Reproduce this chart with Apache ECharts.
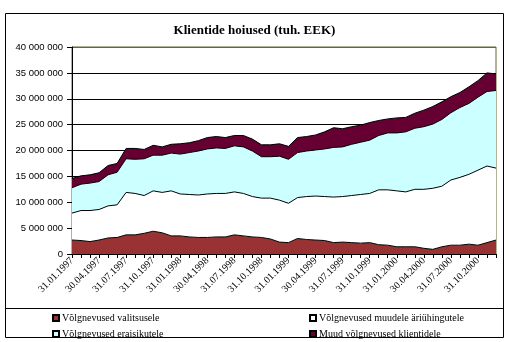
<!DOCTYPE html>
<html>
<head>
<meta charset="utf-8">
<script src="https://cdn.jsdelivr.net/npm/echarts@6/dist/echarts.min.js"></script>
<style>html,body{margin:0;padding:0;background:#fff;}#c{width:509px;height:342px;}</style>
</head>
<body>
<div id="c"></div>
<script>
const titleText = 'Klientide hoiused (tuh. EEK)';
const categories = [
 '31.01.1997','28.02.1997','31.03.1997','30.04.1997','31.05.1997','30.06.1997','31.07.1997','31.08.1997','30.09.1997','31.10.1997','30.11.1997','31.12.1997',
 '31.01.1998','28.02.1998','31.03.1998','30.04.1998','31.05.1998','30.06.1998','31.07.1998','31.08.1998','30.09.1998','31.10.1998','30.11.1998','31.12.1998',
 '31.01.1999','28.02.1999','31.03.1999','30.04.1999','31.05.1999','30.06.1999','31.07.1999','31.08.1999','30.09.1999','31.10.1999','30.11.1999','31.12.1999',
 '31.01.2000','29.02.2000','31.03.2000','30.04.2000','31.05.2000','30.06.2000','31.07.2000','31.08.2000','30.09.2000','31.10.2000','30.11.2000','31.12.2000'
];
const seriesNames = ['Võlgnevused valitsusele','Võlgnevused muudele äriühingutele','Võlgnevused eraisikutele','Muud võlgnevused klientidele'];
const valitsusele = [2700000,2600000,2400000,2700000,3100000,3200000,3700000,3700000,4000000,4400000,4100000,3500000,
 3500000,3300000,3200000,3200000,3300000,3300000,3700000,3500000,3300000,3200000,2900000,2300000,
 2200000,3000000,2800000,2700000,2600000,2200000,2300000,2200000,2100000,2200000,1800000,1700000,
 1400000,1400000,1400000,1100000,900000,1400000,1700000,1700000,1900000,1700000,2200000,2700000];
const muudele = [5200000,5800000,6000000,5900000,6200000,6300000,8200000,8000000,7300000,7800000,7800000,8700000,
 8100000,8200000,8200000,8400000,8400000,8400000,8300000,8200000,7800000,7600000,7900000,8100000,
 7600000,7900000,8300000,8500000,8500000,8800000,8800000,9100000,9400000,9500000,10600000,10700000,
 10800000,10600000,11100000,11400000,11800000,11700000,12600000,13100000,13500000,14500000,14800000,13900000];
const eraisikutele = [4900000,5100000,5300000,5400000,6000000,6300000,6500000,6600000,7100000,6900000,7200000,7300000,
 7700000,8100000,8500000,8700000,8800000,8700000,8900000,9000000,8800000,8000000,8000000,8500000,
 8500000,8700000,8800000,8900000,9200000,9600000,9600000,9900000,10100000,10300000,10500000,11000000,
 11200000,11600000,11800000,12100000,12400000,12900000,13000000,13500000,13700000,14100000,14400000,15000000];
const muud = [1800000,1600000,1600000,1700000,1800000,1700000,2000000,2100000,1800000,1900000,1600000,1700000,
 2000000,1900000,2000000,2200000,2200000,2100000,2000000,2200000,2300000,2300000,2300000,2400000,
 2500000,2900000,2800000,2900000,3300000,3800000,3500000,3400000,3300000,3400000,2900000,2700000,
 2900000,2800000,2900000,3200000,3400000,3400000,3100000,2900000,3200000,3200000,3600000,3200000];
const yMin = 0, yMax = 40000000, yStep = 5000000;

const colors = ['#993333','#ffffff','#ccffff','#660033'];
const serif = '"Liberation Serif","DejaVu Serif",serif';
const sans = '"Liberation Sans",Arial,sans-serif';
const fmt = v => String(v).replace(/\B(?=(\d{3})+(?!\d))/g, ' ');

const chart = echarts.init(document.getElementById('c'), null, {renderer:'canvas'});
const dataSets = [valitsusele, muudele, eraisikutele, muud];
const series = dataSets.map((d, k) => ({
  name: seriesNames[k], type: 'line', stack: 'total', data: d,
  symbol: 'none', showSymbol: false, smooth: false,
  lineStyle: {color: '#000', width: 1},
  itemStyle: {color: colors[k], borderColor: '#000', borderWidth: 1},
  areaStyle: {color: colors[k], opacity: 1},
  emphasis: {disabled: true}, animation: false
}));
const legendCommon = {
  orient: 'vertical', itemWidth: 6, itemHeight: 6, itemGap: 6, icon: 'rect',
  textStyle: {fontFamily: serif, fontSize: 10, color: '#000', padding: [0,0,0,-2]},
  selectedMode: false, padding: 0
};
chart.setOption({
  animation: false,
  backgroundColor: '#fff',
  color: colors,
  title: {text: titleText, left: 'center', top: 19,
    textStyle: {fontFamily: serif, fontSize: 13, fontWeight: 'bold', color: '#000'}},
  grid: {left: 72, right: 13, top: 47, bottom: 88, show: true, borderColor: '#666633', borderWidth: 1, backgroundColor: 'transparent'},
  legend: [
    Object.assign({}, legendCommon, {left: 52, top: 313, data: [seriesNames[0], seriesNames[2]]}),
    Object.assign({}, legendCommon, {left: 309, top: 313, data: [seriesNames[1], seriesNames[3]]})
  ],
  xAxis: {
    type: 'category', data: categories, boundaryGap: false,
    axisLine: {lineStyle: {color: '#000', width: 1}},
    axisTick: {show: true, interval: 0, length: 4, lineStyle: {color: '#000'}},
    axisLabel: {interval: (i) => i % 3 === 0, rotate: 45, margin: 5,
      fontFamily: serif, fontSize: 10, color: '#000'},
    splitLine: {show: false}
  },
  yAxis: {
    type: 'value', min: yMin, max: yMax, interval: yStep,
    axisLine: {show: true, lineStyle: {color: '#000', width: 1}},
    axisTick: {show: true, length: 5, lineStyle: {color: '#000'}},
    axisLabel: {formatter: fmt, fontFamily: sans, fontSize: 9.5, color: '#000', margin: 9},
    splitLine: {show: true, lineStyle: {color: ['#000','#000','#000','#000','#000','#000','#000','#000','#666633'], width: 1}}
  },
  series: series,
  graphic: [
    {type: 'rect', shape: {x: 5.5, y: 13.5, width: 498, height: 324}, style: {fill: null, stroke: '#000', lineWidth: 1}, silent: true, z: -1},
    {type: 'line', shape: {x1: 5, y1: 308.5, x2: 504, y2: 308.5}, style: {stroke: '#000', lineWidth: 1}, silent: true}
  ]
});
</script>
</body>
</html>
